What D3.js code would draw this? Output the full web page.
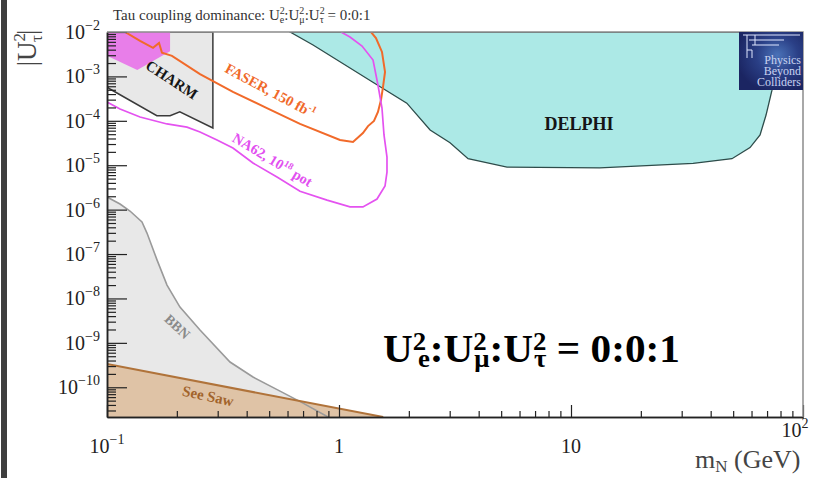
<!DOCTYPE html>
<html><head><meta charset="utf-8">
<script src="https://cdn.jsdelivr.net/npm/d3@7"></script>
<style>body{margin:0;background:#fff}svg{display:block}</style>
</head><body>
<svg id="c" width="825" height="478"></svg>
<script>
// ---- data ----
const xDomain = [0.1, 100];
const yDomain = [2.14e-11, 1e-2];
const xMajor = [0.1, 1, 10, 100];
const xLabels = [["10", "−1"], ["1", ""], ["10", ""], ["10", "2"]];
const yMajor = [1e-2, 1e-3, 1e-4, 1e-5, 1e-6, 1e-7, 1e-8, 1e-9, 1e-10];
const yLabels = [["10","−2"],["10","−3"],["10","−4"],["10","−5"],["10","−6"],["10","−7"],["10","−8"],["10","−9"],["10","−10"]];

const delphi = [[0.615,1e-2],[0.773,5.1e-3],[1.40,7.4e-4],[1.96,2.5e-4],[2.47,6.2e-5],[3.01,3.2e-5],[3.60,1.4e-5],
  [5.30,9.1e-6],[13.3,8.7e-6],[33.6,1.1e-5],[49.4,1.4e-5],[59.1,2.5e-5],[65.3,4.8e-5],[69.3,1.35e-4],[73.5,4.9e-4],[78.0,1e-2]];
const charm = [[0.1,1e-2],[0.286,1e-2],[0.286,6.9e-5],[0.206,1.6e-4],[0.187,1.3e-4],[0.164,1.3e-4],[0.103,5.2e-4],[0.1,5.8e-4]];
const magenta = [[0.1,1e-2],[0.187,1e-2],[0.187,3.7e-3],[0.135,1.4e-3],[0.1,2.9e-3]];
const faser = [[0.1196,1e-2],[0.1388,6.3e-3],[0.1579,4.4e-3],[0.1676,5.65e-3],[0.1726,3.4e-3],[0.1906,2.9e-3],[0.2517,1.13e-3],
  [0.349,4.46e-4],[0.489,1.94e-4],[0.679,8.5e-5],[1.01,3.7e-5],[1.149,3.33e-5],[1.268,5.3e-5],[1.334,7.6e-5],[1.415,9.9e-5],
  [1.472,1.58e-4],[1.517,2.94e-4],[1.548,5.8e-4],[1.579,1.26e-3],[1.532,3.55e-3],[1.443,7.3e-3],[1.374,1e-2]];
const na62 = [[0.1,2.65e-4],[0.1138,1.85e-4],[0.1388,1.22e-4],[0.1814,8.5e-5],[0.2212,7.2e-5],[0.2517,5.6e-5],[0.2979,3.7e-5],
  [0.349,2.44e-5],[0.4258,1.12e-5],[0.5404,5.4e-6],[0.679,2.6e-6],[0.888,1.64e-6],[1.115,1.15e-6],[1.268,1.15e-6],[1.458,1.73e-6],
  [1.579,3.4e-6],[1.610,7.0e-6],[1.610,1.53e-5],[1.563,4.8e-5],[1.532,1.94e-4],[1.472,6.4e-4],[1.402,2.34e-3],[1.257,4.84e-3],[1.115,7.7e-3],[1.020,1e-2]];
const bbn = [[0.1,1.92e-6],[0.1138,1.34e-6],[0.1256,9.3e-7],[0.1415,5.26e-7],[0.1487,2.97e-7],[0.1644,7.3e-8],[0.1814,2.0e-8],
  [0.2063,6.4e-9],[0.2517,1.94e-9],[0.339,3.7e-10],[0.4258,1.7e-10],[0.5569,8.2e-11],[0.6998,4.4e-11],[0.8966,2.14e-11]];
const seesaw = [[0.1,3.33e-10],[1.55,2.14e-11],[0.1,2.14e-11]];

// ---- setup ----
const svg = d3.select("#c");
const L = 107, R = 803, T = 32, B = 417;
const x = d3.scaleLog().domain(xDomain).range([L, R]);
const y = d3.scaleLog().domain(yDomain).range([B, T]);
const line = d3.line().x(d => x(d[0])).y(d => y(d[1]));
const serif = "'Liberation Serif','Times New Roman',serif";

svg.append("rect").attr("x",0).attr("y",0).attr("width",825).attr("height",478).attr("fill","#fff");
svg.append("rect").attr("x",1).attr("y",0).attr("width",6).attr("height",478).attr("fill","#3e3e3e");

const defs = svg.append("defs");
defs.append("clipPath").attr("id","plot").append("rect").attr("x",L).attr("y",T).attr("width",R-L).attr("height",B-T);
const g = svg.append("g").attr("clip-path","url(#plot)");

// regions
g.append("path").attr("d", line(delphi)+"Z").attr("fill","#ace9e6").attr("stroke","#2e4c4a").attr("stroke-width",1.3);
g.append("path").attr("d", line(charm)+"Z").attr("fill","#e8e8e8").attr("stroke","#3a3a3a").attr("stroke-width",1.5);
g.append("path").attr("d", line(magenta)+"Z").attr("fill","#e87ee9").attr("stroke","none");
g.append("path").attr("d", line(bbn.concat([[0.1,2.14e-11]]))+"Z").attr("fill","#e8e8e8").attr("stroke","none");
g.append("path").attr("d", line(seesaw)+"Z").attr("fill","#dfc3a6").attr("stroke","none");
g.append("path").attr("d", line(bbn)).attr("fill","none").attr("stroke","#9a9a9a").attr("stroke-width",1.6);
g.append("path").attr("d", line(seesaw.slice(0,2))).attr("fill","none").attr("stroke","#b0733a").attr("stroke-width",2);
g.append("path").attr("d", line([seesaw[0],seesaw[2]])).attr("fill","none").attr("stroke","#b0733a").attr("stroke-width",2);
g.append("path").attr("d", line(faser)).attr("fill","none").attr("stroke","#f16a2a").attr("stroke-width",2);
g.append("path").attr("d", line(na62)).attr("fill","none").attr("stroke","#e452f0").attr("stroke-width",1.7);

// region labels
function rlabel(txt, cx, cy, ang, size, color) {
  const t = svg.append("text").attr("transform",`translate(${cx},${cy}) rotate(${ang})`)
    .attr("text-anchor","middle").attr("font-family",serif).attr("font-weight","bold")
    .attr("font-size",size).attr("fill",color);
  t.append("tspan").text(txt[0]);
  if (txt.length > 1) {
    t.append("tspan").attr("font-size",size*0.65).attr("dy",-size*0.4).text(txt[1]);
    if (txt[2]) t.append("tspan").attr("dy",size*0.4).text(txt[2]);
  }
  return t;
}
rlabel(["CHARM"], 169, 84, 33, 15, "#151515");
rlabel(["FASER, 150 fb","-1"], 268, 95, 28, 14.5, "#f0692a");
rlabel(["NA62, 10","18"," pot"], 270, 164, 31, 14.5, "#e24ff0");
rlabel(["BBN"], 174, 330, 43, 14, "#8a8a8a");
rlabel(["See Saw"], 207, 401, 12, 15, "#a2642c");
svg.append("text").attr("x",579).attr("y",130).attr("text-anchor","middle").attr("font-family",serif)
  .attr("font-weight","bold").attr("font-size",18).attr("fill","#151515").text("DELPHI");

// axes
const yMinor = [];
for (let e = -11; e <= -3; e++) for (let k = 2; k <= 9; k++) { const v = k*Math.pow(10,e); if (v > yDomain[0] && v < yDomain[1]) yMinor.push(v); }
const xMinor = [];
for (let e = -1; e <= 1; e++) for (let k = 2; k <= 9; k++) xMinor.push(k*Math.pow(10,e));

function styleAxis(sel){ sel.selectAll("path.domain").attr("stroke","#222").attr("stroke-width",1.5); sel.selectAll(".tick line").attr("stroke","#222").attr("stroke-width",1.2); sel.selectAll("text").remove(); }
svg.append("g").attr("transform",`translate(${L},0)`).call(d3.axisLeft(y).tickValues(yMinor).tickSizeInner(-9).tickSizeOuter(0).tickFormat("")).call(styleAxis);
svg.append("g").attr("transform",`translate(${L},0)`).call(d3.axisLeft(y).tickValues(yMajor).tickSizeInner(-20).tickSizeOuter(0).tickFormat("")).call(styleAxis);
svg.append("g").attr("transform",`translate(0,${B})`).call(d3.axisBottom(x).tickValues(xMinor).tickSizeInner(-6).tickSizeOuter(0).tickFormat("")).call(styleAxis);
svg.append("g").attr("transform",`translate(0,${B})`).call(d3.axisBottom(x).tickValues(xMajor).tickSizeInner(-12).tickSizeOuter(0).tickFormat("")).call(styleAxis);
// frame top/right
svg.append("path").attr("d",`M${L},${T}H${R}V${B}`).attr("fill","none").attr("stroke","#8c8c8c").attr("stroke-width",1.5);

// tick labels
yMajor.forEach((v,i) => {
  const t = svg.append("text").attr("x",100).attr("y",y(v)+7).attr("text-anchor","end")
    .attr("font-family",serif).attr("font-size",20).attr("fill","#222");
  t.append("tspan").text(yLabels[i][0]);
  t.append("tspan").attr("font-size",14).attr("dy",-9).text(yLabels[i][1]);
});
xMajor.forEach((v,i) => {
  const last = i === xMajor.length-1;
  const t = svg.append("text").attr("x", last ? x(v)-8 : x(v)).attr("y", last ? 437 : 453).attr("text-anchor","middle")
    .attr("font-family",serif).attr("font-size",20).attr("fill","#222");
  t.append("tspan").text(xLabels[i][0]);
  if (xLabels[i][1]) t.append("tspan").attr("font-size",14).attr("dy",-9).text(xLabels[i][1]);
});

// axis titles
const xt = svg.append("text").attr("x",695).attr("y",468).attr("font-family",serif).attr("font-size",26).attr("fill","#444");
xt.append("tspan").text("m");
xt.append("tspan").attr("font-size",17).attr("dy",4).text("N");
xt.append("tspan").attr("dy",-4).text(" (GeV)");

const yt = svg.append("text").attr("transform","translate(36,48) rotate(-90)").attr("text-anchor","middle")
  .attr("font-family",serif).attr("font-size",27).attr("fill","#444");
yt.append("tspan").text("|U");
yt.append("tspan").attr("font-size",17).attr("dy",-11).text("2");
yt.append("tspan").attr("font-size",17).attr("dx",-9).attr("dy",17).text("τ");
yt.append("tspan").attr("dy",-6).text("|");

// title
const tt = svg.append("text").attr("x",113).attr("y",20).attr("font-family",serif).attr("font-size",15).attr("fill","#333");
tt.append("tspan").text("Tau coupling dominance: U");
[["e",":U"],["μ",":U"],["τ"," = 0:0:1"]].forEach(p => {
  tt.append("tspan").attr("font-size",10).attr("dy",-6).text("2");
  tt.append("tspan").attr("font-size",10).attr("dx",-5).attr("dy",9).text(p[0]);
  tt.append("tspan").attr("dy",-3).text(p[1]);
});

// big ratio text
const bg = svg.append("g");
const bt = bg.append("text").attr("x",0).attr("y",0).attr("font-family",serif).attr("font-weight","bold").attr("font-size",40).attr("fill","#000");
bt.append("tspan").text("U");
[["e",-8,":U"],["μ",-12,":U"],["τ",-12," = 0:0:1"]].forEach(p => {
  bt.append("tspan").attr("font-size",26).attr("dy",-12).text("2");
  bt.append("tspan").attr("font-size",26).attr("dx",p[1]).attr("dy",17).text(p[0]);
  bt.append("tspan").attr("dy",-5).text(p[2]);
});
const bb = bt.node().getBBox();
bg.attr("transform",`translate(${383 - bb.x*(297/bb.width)},362) scale(${297/bb.width},1)`);

// logo
const grad = defs.append("radialGradient").attr("id","lg").attr("cx","60%").attr("cy","40%").attr("r","65%");
grad.append("stop").attr("offset","0%").attr("stop-color","#4a72b8");
grad.append("stop").attr("offset","50%").attr("stop-color","#2a3f86");
grad.append("stop").attr("offset","100%").attr("stop-color","#1b2562");
const lg = svg.append("g");
lg.append("rect").attr("x",739).attr("y",32).attr("width",64).attr("height",58).attr("fill","url(#lg)");
[[743,800,35],[749,784,40],[752,779,45]].forEach(d => lg.append("line").attr("x1",d[0]).attr("x2",d[1]).attr("y1",d[2]).attr("y2",d[2]).attr("stroke","#dfe6ff").attr("stroke-width",1));
lg.append("path").attr("d","M747,35V58M755,35V45M747,50H752V58").attr("fill","none").attr("stroke","#dfe6ff").attr("stroke-width",1);
["Physics","Beyond","Colliders"].forEach((s,i) => lg.append("text").attr("x",801).attr("y",64+i*11).attr("text-anchor","end")
  .attr("font-family",serif).attr("font-size",12).attr("fill","#c9d2f0").text(s));
</script>
</body></html>
